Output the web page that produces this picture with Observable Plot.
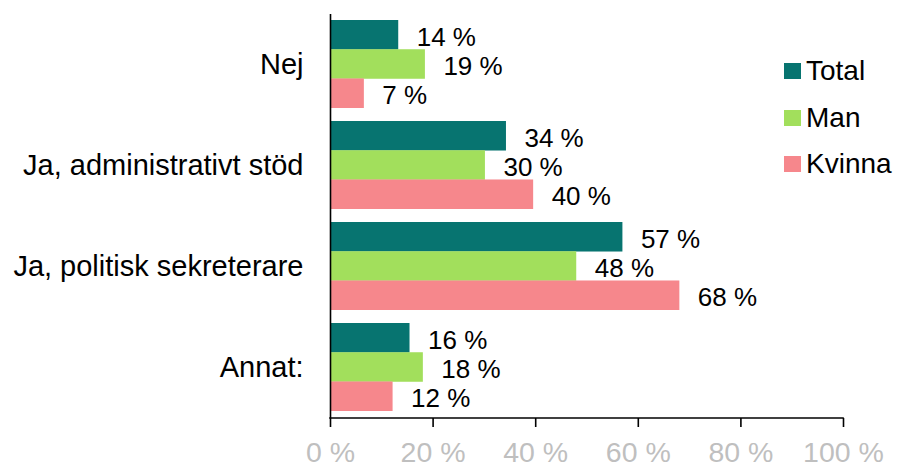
<!DOCTYPE html>
<html>
<head>
<meta charset="utf-8">
<script src="https://cdn.jsdelivr.net/npm/d3@7"></script>
<script src="https://cdn.jsdelivr.net/npm/@observablehq/plot@0.6"></script>
<style>
  html, body { margin: 0; padding: 0; background: #fff; }
  #wrap { position: relative; width: 898px; height: 467px; font-family: "Liberation Sans", Arial, sans-serif; }
  #wrap svg [aria-label="x-axis tick label"] { fill: #bfbfbf; }
  #legend { position: absolute; left: 784px; top: 48px; }
  .item { display: flex; align-items: center; height: 46.5px; font-size: 28px; color: #000; }
  .sw { width: 17px; height: 16px; margin-right: 5px; }
</style>
</head>
<body>
<div id="wrap"><div id="legend"></div></div>
<script>
const categories = ["Nej", "Ja, administrativt stöd", "Ja, politisk sekreterare", "Annat:"];
const series = ["Total", "Man", "Kvinna"];
const colors = ["#077470", "#a2df5c", "#f6878c"];
const totalValues = [13.3, 34.3, 57.0, 15.5];
const manValues = [18.5, 30.2, 48.0, 18.1];
const kvinnaValues = [6.6, 39.6, 68.1, 12.2];
const totalLabels = ["14 %", "34 %", "57 %", "16 %"];
const manLabels = ["19 %", "30 %", "48 %", "18 %"];
const kvinnaLabels = ["7 %", "40 %", "68 %", "12 %"];
const xTicks = [0, 20, 40, 60, 80, 100];

const valuesBySeries = [totalValues, manValues, kvinnaValues];
const labelsBySeries = [totalLabels, manLabels, kvinnaLabels];

const W = 898, H = 467, mT = 14, mB = 49, mL = 330, mR = 55;
const pIn = 0.133, pOut = 0.063;
const step = (H - mT - mB) / (categories.length - pIn + 2 * pOut);
const bw = step * (1 - pIn);
const h = bw / 3;

const marks = [];
series.forEach((s, i) => {
  const rows = categories.map((c, j) => ({category: c, series: s, value: valuesBySeries[i][j], label: labelsBySeries[i][j]}));
  marks.push(Plot.barX(rows, {
    x: "value", y: "category", fill: colors[i],
    insetTop: i * h, insetBottom: (2 - i) * h
  }));
  marks.push(Plot.text(rows, {
    x: "value", y: "category", text: "label", textAnchor: "start",
    dx: 18, dy: (i - 1) * h + 2, fontSize: 26, fill: "#000"
  }));
});

marks.push(Plot.ruleX([0], {stroke: "#000", strokeWidth: 1.6}));
marks.push((index, scales, values, dimensions) => {
  const y = dimensions.height - dimensions.marginBottom;
  return d3.create("svg:line")
    .attr("x1", scales.x(0) - 0.8).attr("x2", scales.x(100) + 0.8)
    .attr("y1", y).attr("y2", y)
    .attr("stroke", "#000").attr("stroke-width", 1.6).node();
});
marks.push(Plot.axisX({ticks: xTicks, tickFormat: d => d + " %", tickSize: 9, tickPadding: 14, fontSize: 28.5, strokeWidth: 1.6, label: null}));
marks.push(Plot.axisY({tickSize: 0, tickPadding: 27, fontSize: 29, label: null}));

const chart = Plot.plot({
  width: W, height: H,
  marginTop: mT, marginBottom: mB, marginLeft: mL, marginRight: mR,
  style: {fontFamily: "'Liberation Sans', Arial, sans-serif", background: "#fff", color: "#000", overflow: "visible"},
  x: {domain: [0, 100], label: null},
  y: {domain: categories, paddingInner: pIn, paddingOuter: pOut, align: 0.42, label: null},
  marks
});
document.getElementById("wrap").prepend(chart);

const legend = document.getElementById("legend");
series.forEach((s, i) => {
  const item = document.createElement("div");
  item.className = "item";
  const sw = document.createElement("div");
  sw.className = "sw";
  sw.style.background = colors[i];
  const t = document.createElement("span");
  t.textContent = s;
  item.appendChild(sw);
  item.appendChild(t);
  legend.appendChild(item);
});
</script>
</body>
</html>
